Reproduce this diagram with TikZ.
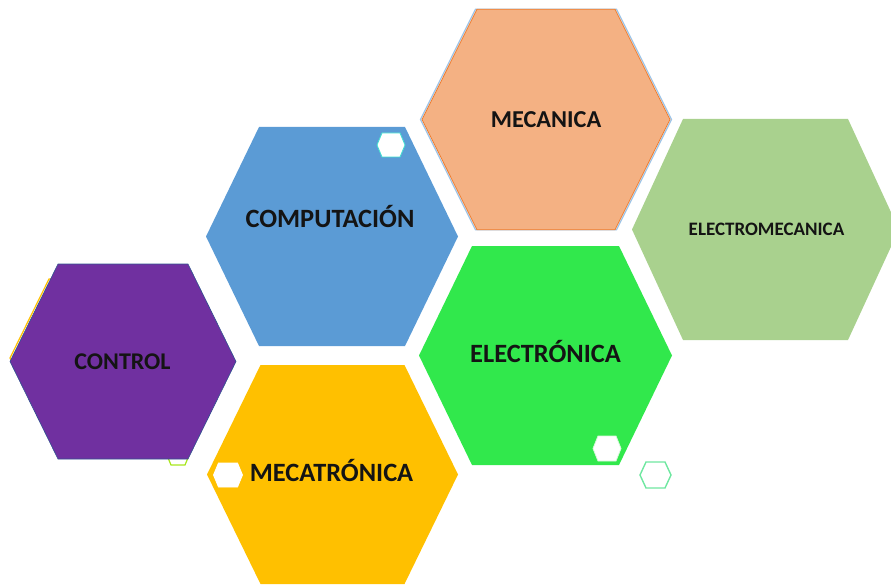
\documentclass[tikz,border=0pt]{standalone}
\usepackage{fontspec}
\setmainfont{Carlito}
\usetikzlibrary{calc}
\definecolor{cControl}{HTML}{7030A0}
\definecolor{cControlLine}{HTML}{2F528F}
\definecolor{cComp}{HTML}{5B9BD5}
\definecolor{cMeca}{HTML}{F4B183}
\definecolor{cMecaLine}{HTML}{ED7D31}
\definecolor{cMecaGlow}{HTML}{9DC3E6}
\definecolor{cEmeca}{HTML}{A9D18E}
\definecolor{cElec}{HTML}{31E84C}
\definecolor{cMecat}{HTML}{FFC000}
\definecolor{cCyan}{HTML}{40E0D0}
\definecolor{cMint}{HTML}{6EE7A0}
\definecolor{cLime}{HTML}{A8E61D}
\definecolor{cPale}{HTML}{D9F7DC}
% hexagon round a centre: half width, half height, corner inset
\newcommand{\hexpath}[4]{($(#1)+(-#2,0)$) -- ($(#1)+(-#2+#4,-#3)$) -- ($(#1)+(#2-#4,-#3)$) -- ($(#1)+(#2,0)$) -- ($(#1)+(#2-#4,#3)$) -- ($(#1)+(-#2+#4,#3)$) -- cycle}
\tikzset{
  hexlbl/.style  = {font=\bfseries\fontsize{#1}{#1}\selectfont, text=black!92,
                    anchor=base, inner sep=0pt},
  hexlbl/.default = 26.4bp,
  minihex/.style = {fill=white, line width=0.8bp},
  ghost/.style   = {line width=1.2bp},
}
\begin{document}
\begin{tikzpicture}[x=1bp, y=-1bp]
  \clip (0,0) rectangle (891,585);

  % centres of the cells
  \coordinate (ctrl)  at (123,361.5);
  \coordinate (comp)  at (332,236.5);
  \coordinate (meca)  at (546,119.5);
  \coordinate (emeca) at (765.5,229.5);
  \coordinate (elec)  at (545.5,355.5);
  \coordinate (mecat) at (332.5,474.5);

  % thin shapes peeking out behind the cells
  \draw[ghost, cLime] \hexpath{$(ctrl)+(55,91.5)$}{12}{12}{5};
  \draw[ghost, cMecat] \hexpath{$(ctrl)+(-23.5,-3.5)$}{89.5}{79}{39};
  \draw[ghost, cMecaGlow] \hexpath{meca}{125.5}{110.3}{55};

  % big cells
  \filldraw[fill=cControl, draw=cControlLine, line width=0.6bp] \hexpath{ctrl}{113}{97.5}{48};
  \fill[cComp]  \hexpath{comp}{126}{109.5}{53};
  \filldraw[fill=cMeca, draw=cMecaLine, line width=0.8bp] \hexpath{meca}{124}{110.3}{55};
  \fill[cEmeca] \hexpath{emeca}{133.5}{110.5}{51};
  \fill[cElec]  \hexpath{elec}{126.5}{109.5}{53};
  \fill[cMecat] \hexpath{mecat}{125.5}{109.5}{53.5};

  % small white cells
  \filldraw[minihex, draw=cCyan] \hexpath{$(comp)+(59,-91.5)$}{14}{12}{5};
  \filldraw[minihex, draw=cPale] \hexpath{$(elec)+(61.5,93)$}{14}{12.5}{5};
  \filldraw[minihex, draw=white] \hexpath{$(mecat)+(-104.5,0.5)$}{14.5}{12}{5};
  \draw[cMint, line width=1.4bp] \hexpath{$(elec)+(110,119.5)$}{15.5}{13}{6};

  % labels
  \node[hexlbl=24bp]   (tctrl)  at ($(ctrl)+(-0.5,7.8)$)  {CONTROL};
  \node[hexlbl]        (tcomp)  at ($(comp)+(-2,-9.2)$)   {COMPUTACIÓN};
  \node[hexlbl=24.3bp] (tmeca)  at ($(meca)+(0,7.8)$)     {MECANICA};
  \node[hexlbl=19bp]   (temeca) at ($(emeca)+(1,6.5)$)    {ELECTROMECANICA};
  \node[hexlbl]        (telec)  at ($(elec)+(0,6.5)$)     {ELECTRÓNICA};
  \node[hexlbl]        (tmecat) at ($(mecat)+(-1,6.5)$)   {MECATRÓNICA};
\end{tikzpicture}
\end{document}
